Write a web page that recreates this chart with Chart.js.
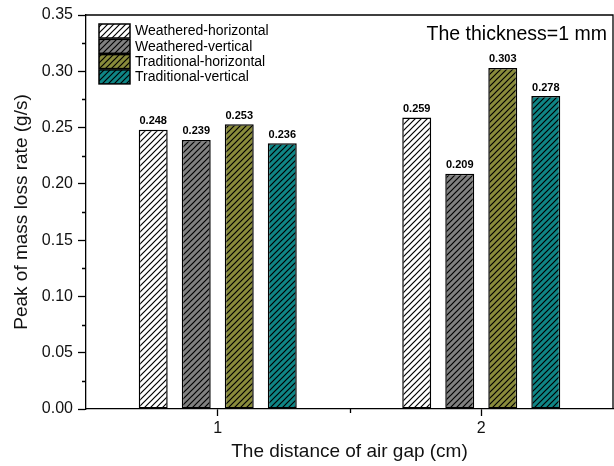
<!DOCTYPE html>
<html>
<head>
<meta charset="utf-8">
<title>Peak of mass loss rate</title>
<script src="https://cdn.jsdelivr.net/npm/chart.js@4/dist/chart.umd.min.js"></script>
<style>
  html, body { margin: 0; padding: 0; background: #fff; }
  canvas { display: block; }
</style>
</head>
<body>
<canvas id="myChart" width="614" height="466"></canvas>
<script>
// Air gap distances (cm) and the four sample series
const gapLabels = ['1', '2'];
const weatheredHorizontal = [0.248, 0.259];
const weatheredVertical = [0.239, 0.209];
const traditionalHorizontal = [0.253, 0.303];
const traditionalVertical = [0.236, 0.278];
const seriesNames = ['Weathered-horizontal', 'Weathered-vertical', 'Traditional-horizontal', 'Traditional-vertical'];
const seriesColors = ['#ffffff', '#808080', '#898b3b', '#0f8585'];
const yTicks = [0, 0.05, 0.10, 0.15, 0.20, 0.25, 0.30, 0.35];

const FONT = "'Liberation Sans', Arial, sans-serif";

// diagonal "/" hatch over a fill colour
function hatch(color) {
    const c = document.createElement('canvas');
    c.width = 6;
    c.height = 6;
    const g = c.getContext('2d');
    g.fillStyle = color;
    g.fillRect(0, 0, 6, 6);
    g.strokeStyle = '#000';
    g.lineWidth = 1.2;
    g.beginPath();
    g.moveTo(-1, 7); g.lineTo(7, -1);
    g.moveTo(-1, 1); g.lineTo(1, -1);
    g.moveTo(5, 7); g.lineTo(7, 5);
    g.stroke();
    return g.createPattern(c, 'repeat');
}

const seriesData = [weatheredHorizontal, weatheredVertical, traditionalHorizontal, traditionalVertical];

// value labels, legend, frame and minor ticks
const extras = {
    id: 'extras',
    afterDatasetsDraw(chart) {
        const ctx = chart.ctx;
        ctx.save();
        ctx.fillStyle = '#000';
        ctx.font = 'bold 11px ' + FONT;
        ctx.textAlign = 'center';
        ctx.textBaseline = 'bottom';
        chart.data.datasets.forEach((ds, i) => {
            chart.getDatasetMeta(i).data.forEach((bar, j) => {
                ctx.fillText(ds.data[j].toFixed(3), bar.x, bar.y - 3);
            });
        });
        ctx.restore();
    },
    afterDraw(chart) {
        const ctx = chart.ctx;
        const area = chart.chartArea;
        const x = chart.scales.x;
        const y = chart.scales.y;
        ctx.save();
        ctx.strokeStyle = '#000';
        ctx.lineWidth = 1.3;

        // top and right frame lines
        ctx.beginPath();
        ctx.moveTo(area.left, area.top);
        ctx.lineTo(area.right, area.top);
        ctx.lineTo(area.right, area.bottom);
        ctx.stroke();

        // minor ticks
        ctx.beginPath();
        for (let i = 0; i < yTicks.length - 1; i++) {
            const py = Math.round(y.getPixelForValue((yTicks[i] + yTicks[i + 1]) / 2)) + 0.5;
            ctx.moveTo(area.left - 4, py);
            ctx.lineTo(area.left, py);
        }
        const mx = Math.round((x.getPixelForValue(0) + x.getPixelForValue(1)) / 2) + 0.5;
        ctx.moveTo(mx, area.bottom);
        ctx.lineTo(mx, area.bottom + 4);
        ctx.stroke();

        // legend
        ctx.font = '14px ' + FONT;
        ctx.textAlign = 'left';
        ctx.textBaseline = 'middle';
        chart.data.datasets.forEach((ds, i) => {
            const bx = area.left + 13;
            const by = area.top + 9 + i * 15.3;
            ctx.fillStyle = ds.backgroundColor;
            ctx.fillRect(bx, by, 31, 14);
            ctx.lineWidth = 1.5;
            ctx.strokeRect(bx, by, 31, 14);
            ctx.fillStyle = '#000';
            ctx.fillText(ds.label, bx + 36, by + 7.5);
        });

        // thickness note
        ctx.font = '19.5px ' + FONT;
        ctx.textAlign = 'right';
        ctx.textBaseline = 'alphabetic';
        ctx.fillText('The thickness=1 mm', area.right - 6, area.top + 25);
        ctx.restore();
    }
};

let ctx = document.getElementById('myChart').getContext('2d');
let myChart = new Chart(ctx, {
    type: 'bar',
    data: {
        labels: gapLabels,
        datasets: seriesNames.map((name, i) => ({
            label: name,
            data: seriesData[i],
            backgroundColor: hatch(seriesColors[i]),
            borderColor: '#000',
            borderWidth: 1.5,
            borderSkipped: false,
            categoryPercentage: 0.653,
            barPercentage: 0.673
        }))
    },
    options: {
        responsive: false,
        animation: false,
        layout: { padding: { top: 15, right: 1, left: 0, bottom: 0 } },
        plugins: {
            legend: { display: false },
            tooltip: { enabled: false }
        },
        scales: {
            x: {
                offset: true,
                afterFit: (s) => { s.height = 57; },
                border: { display: true, color: '#000', width: 1.3 },
                grid: {
                    offset: false,
                    drawOnChartArea: false,
                    tickLength: 7,
                    tickColor: '#000',
                    tickWidth: 1.3
                },
                ticks: {
                    color: '#111',
                    font: { family: FONT, size: 16 },
                    padding: 3,
                    maxRotation: 0
                },
                title: {
                    display: true,
                    text: 'The distance of air gap (cm)',
                    color: '#111',
                    font: { family: FONT, size: 19 },
                    padding: { top: 0, bottom: 3 }
                }
            },
            y: {
                min: 0,
                max: 0.35,
                afterFit: (s) => { s.width = 86; },
                afterBuildTicks: (s) => { s.ticks = yTicks.map(v => ({ value: v })); },
                border: { display: true, color: '#000', width: 1.3 },
                grid: {
                    drawOnChartArea: false,
                    tickLength: 8,
                    tickColor: '#000',
                    tickWidth: 1.3
                },
                ticks: {
                    color: '#111',
                    font: { family: FONT, size: 16 },
                    padding: 5,
                    callback: (v) => Number(v).toFixed(2)
                },
                title: {
                    display: true,
                    text: 'Peak of mass loss rate (g/s)',
                    color: '#111',
                    font: { family: FONT, size: 19 },
                    padding: { top: 10, bottom: 0 }
                }
            }
        }
    },
    plugins: [extras]
});
</script>
</body>
</html>
